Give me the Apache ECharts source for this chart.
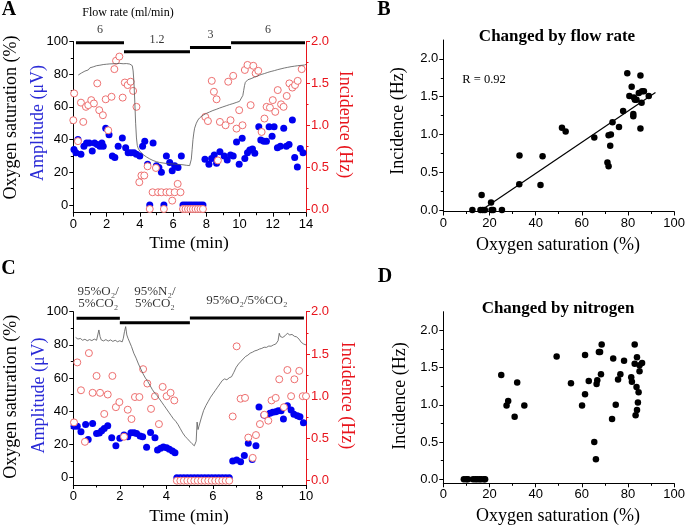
<!DOCTYPE html>
<html><head><meta charset="utf-8">
<script src="https://cdn.jsdelivr.net/npm/echarts@6/dist/echarts.min.js"></script>
<style>html,body{margin:0;padding:0;background:#fff}#c{width:688px;height:526px}</style>
</head><body><div id="c"></div>
<script>
// ---------- Panel A data (time in min) ----------
const ampA = [[0.04,34],[0.16,32],[0.28,40],[0.46,31],[0.64,36],[0.8,38],[0.96,38],[1.14,33],[1.28,38],[1.44,37],[1.6,36],[1.72,38],[1.8,36],[1.95,47],[2.15,43],[2.35,30],[2.5,29],[2.7,36],[2.95,41],[3.15,35],[3.3,32],[3.47,32],[3.65,32],[3.8,31],[4.0,30],[4.17,36],[4.3,39],[4.47,25],[4.6,0],[4.8,38],[5.0,24],[5.15,23],[5.3,20],[5.45,0],[5.6,30],[5.8,26],[5.95,21],[6.1,24],[6.3,23],[6.5,30],[6.6,0],[6.75,0],[6.9,0],[7.05,0],[7.2,0],[7.35,0],[7.5,0],[7.65,0],[7.8,0],[7.92,28],[8.16,25],[8.32,28.5],[8.48,30.6],[8.62,25.5],[8.82,32.6],[9.08,30],[9.26,27.5],[9.46,30.6],[9.62,30],[9.82,38.5],[9.98,25],[10.16,40.8],[10.32,28.5],[10.48,32],[10.62,33.6],[10.78,34.3],[10.92,31.6],[11.16,47.9],[11.28,39.7],[11.46,39],[11.62,39],[11.78,47.9],[11.96,42],[12.08,47.9],[12.28,35],[12.46,36],[12.66,47],[12.82,36],[12.98,37],[13.18,52],[13.32,29],[13.48,23.2],[13.66,34.6],[13.82,32]];
const incA = [[0.0,1.06],[0.05,1.38],[0.28,0.81],[0.46,1.27],[0.6,1.04],[0.76,1.22],[0.9,1.24],[1.08,1.3],[1.24,1.26],[1.44,1.5],[1.56,1.18],[1.78,1.12],[1.95,1.31],[2.1,0.94],[2.3,1.34],[2.47,1.67],[2.57,1.77],[2.77,1.82],[2.97,1.33],[3.1,1.51],[3.27,1.48],[3.45,1.52],[3.6,1.41],[3.8,1.22],[3.97,0.32],[4.1,0.4],[4.27,0.4],[4.47,0.51],[4.6,0],[4.77,0.2],[4.97,0.49],[5.1,0.2],[5.3,0.2],[5.45,0],[5.6,0.2],[5.8,0.2],[5.95,0.1],[6.1,0.2],[6.28,0.3],[6.45,0.2],[6.6,0],[6.75,0],[6.9,0],[7.05,0],[7.2,0],[7.35,0],[7.5,0],[7.65,0],[7.8,0],[7.94,1.1],[8.1,1.05],[8.33,1.53],[8.46,1.4],[8.62,1.31],[8.7,0.58],[8.82,1.04],[9.16,1.0],[9.32,1.52],[9.46,1.06],[9.62,1.59],[9.82,0.96],[9.98,1.18],[10.18,1.0],[10.32,1.66],[10.48,1.72],[10.67,1.24],[10.83,1.71],[10.97,1.62],[11.13,1.65],[11.33,0.92],[11.5,1.08],[11.63,1.22],[11.83,1.21],[12.0,1.3],[12.15,1.16],[12.3,1.42],[12.5,1.25],[12.65,1.22],[12.84,1.35],[13.0,1.5],[13.18,1.45],[13.34,1.48],[13.5,1.53],[13.74,1.67]];
const satA = [[0.3,79.5],[0.4,80.5],[0.5,80.8],[0.6,81.6],[0.7,81.9],[0.8,82.8],[0.9,82.6],[1.0,83.9],[1.1,83.4],[1.2,84.5],[1.3,84.1],[1.4,85.2],[1.5,84.7],[1.6,85.5],[1.7,85.0],[1.8,85.9],[1.9,85.3],[2.0,86.1],[2.1,85.4],[2.2,86.3],[2.3,85.6],[2.4,86.4],[2.5,85.6],[2.6,86.5],[2.7,85.8],[2.8,86.6],[2.9,85.8],[3.0,86.4],[3.1,85.7],[3.2,86.5],[3.3,85.9],[3.4,86.2],[3.5,85.7],[3.55,85.2],[3.6,82],[3.65,75],[3.7,63],[3.75,50],[3.8,41],[3.85,36.5],[3.9,34.8],[4.0,33],[4.1,31.8],[4.2,30.8],[4.3,30.1],[4.4,29.4],[4.5,28.8],[4.6,28.2],[4.7,27.7],[4.8,27.2],[4.9,26.8],[5.0,26.5],[5.2,26.0],[5.4,25.7],[5.6,25.4],[5.8,25.2],[6.0,25.1],[6.2,24.9],[6.4,24.8],[6.6,24.6],[6.8,24.3],[7.0,24.1],[7.05,25],[7.1,28],[7.15,34],[7.2,40],[7.25,44],[7.3,47],[7.4,50],[7.5,52],[7.6,53.3],[7.7,54.0],[7.8,54.9],[7.9,55.3],[8.0,56.0],[8.1,56.2],[8.2,56.9],[8.3,57.0],[8.4,57.8],[8.5,57.7],[8.6,58.5],[8.7,58.4],[8.8,59.3],[8.9,59.1],[9.0,60.0],[9.1,59.8],[9.2,60.7],[9.3,60.5],[9.4,61.4],[9.5,61.2],[9.6,62.0],[9.7,61.8],[9.8,62.7],[9.9,62.6],[10.0,63.4],[10.1,64.5],[10.2,67],[10.25,70],[10.3,73],[10.35,75],[10.4,76.2],[10.5,76.6],[10.6,77.6],[10.7,77.3],[10.8,78.4],[10.9,78.2],[11.0,79.2],[11.1,79.0],[11.2,80.0],[11.3,79.8],[11.4,80.7],[11.5,80.4],[11.6,81.3],[11.7,81.1],[11.8,81.9],[11.9,81.7],[12.0,82.5],[12.1,82.2],[12.2,83.0],[12.3,82.8],[12.4,83.6],[12.5,83.3],[12.6,84.1],[12.7,83.8],[12.8,84.6],[12.9,84.2],[13.0,85.0],[13.1,84.6],[13.2,85.4],[13.3,84.9],[13.4,85.7],[13.5,85.2],[13.6,86.0],[13.7,85.4],[13.8,86.2],[13.9,85.6],[14.0,86.0]];
const flowSegments = [[0.16,3.05,'6'],[3.05,7.02,'1.2'],[7.02,9.49,'3'],[9.49,13.94,'6']];

// ---------- Panel B data (saturation %, incidence Hz) ----------
const ptsB = [[12.6,0],[16.6,0.2],[16.1,0],[17.1,0],[18,0],[20.7,0.1],[20.9,0],[21.6,0],[25.4,0],[32.9,0.34],[33,0.72],[42.1,0.33],[43,0.71],[51.4,1.09],[53,1.04],[65.4,0.96],[71.1,0.63],[71.6,0.58],[71.6,0.99],[72.6,1.0],[72.3,0.85],[73.3,1.16],[76.1,1.1],[77.9,1.31],[79.7,1.81],[80.6,1.51],[81.6,1.63],[82.3,1.27],[82.3,1.24],[82.6,1.49],[83,1.46],[83.7,1.46],[84.7,1.55],[85.4,1.78],[85.4,1.08],[85.9,1.42],[86.1,1.57],[86.9,1.57],[89,1.51]];
const fitB = [[16.6,0],[91.9,1.554]];

// ---------- Panel C data ----------
const ampC = [[0.03,31],[0.17,31],[0.33,27.7],[0.53,32],[0.64,23],[0.83,32.7],[1.0,26.7],[1.12,27],[1.22,28.3],[1.33,29.7],[1.48,31.3],[1.65,24.1],[1.83,19.3],[2.0,23.7],[2.18,25.7],[2.34,24.7],[2.48,27.1],[2.61,27.1],[2.72,26.7],[2.87,25.1],[2.98,24.7],[3.15,18.3],[3.32,27.3],[3.51,24.1],[3.62,16.7],[3.75,17.7],[3.87,18.5],[4.01,18.1],[4.13,17.1],[4.26,16.1],[4.37,15.1],[4.45,0],[4.6,0],[4.75,0],[4.9,0],[5.05,0],[5.2,0],[5.35,0],[5.5,0],[5.65,0],[5.8,0],[5.95,0],[6.1,0],[6.25,0],[6.4,0],[6.55,0],[6.7,0],[6.85,10],[7.02,10.6],[7.19,9.6],[7.35,13.3],[7.52,20.7],[7.69,11],[7.85,19.3],[7.98,42.6],[8.19,37.8],[8.31,37.1],[8.45,38.8],[8.57,39.4],[8.7,39.8],[8.81,40.4],[8.93,40.4],[9.03,35.3],[9.2,43.4],[9.36,40.8],[9.48,38.2],[9.63,37.3],[9.74,36.7],[9.89,33.1]];
const incC = [[0.03,0.69],[0.17,1.4],[0.33,1.07],[0.5,0.46],[0.67,1.51],[0.83,1.04],[1.0,1.24],[1.15,1.04],[1.33,0.79],[1.48,1.02],[1.68,1.24],[1.83,0.87],[1.98,0.93],[2.18,0.52],[2.34,0.84],[2.5,0.73],[2.65,0.99],[2.84,0.99],[3.0,1.32],[3.18,1.15],[3.34,0.85],[3.51,1.0],[3.68,0.67],[3.84,1.11],[4.01,1.0],[4.18,1.04],[4.34,0.95],[4.45,0],[4.6,0],[4.75,0],[4.9,0],[5.05,0],[5.2,0],[5.35,0],[5.5,0],[5.65,0],[5.8,0],[5.95,0],[6.1,0],[6.25,0],[6.4,0],[6.55,0],[6.7,0],[6.85,0.76],[7.02,1.59],[7.19,0.97],[7.38,0.98],[7.52,0.51],[7.71,0.27],[7.85,0.54],[8.02,0.67],[8.21,0.78],[8.38,0.71],[8.52,0.95],[8.7,0.98],[8.85,1.2],[9.05,0.87],[9.2,1.31],[9.36,1.0],[9.5,1.2],[9.71,1.3],[9.86,1.0],[10.0,1.0]];
const satC = [[0.1,84.5],[0.2,83.5],[0.3,83.9],[0.4,82.8],[0.5,83.4],[0.6,82.5],[0.7,83.2],[0.8,82.6],[0.9,83.5],[1.0,82.8],[1.05,84],[1.1,89],[1.15,85],[1.2,83],[1.3,82.4],[1.4,83.2],[1.5,82.3],[1.6,83.0],[1.7,82.1],[1.8,82.8],[1.9,81.9],[2.0,82.5],[2.1,81.8],[2.15,84],[2.2,88],[2.25,91],[2.3,86],[2.35,84],[2.4,83],[2.5,79],[2.6,75],[2.7,72],[2.8,68.5],[2.9,65.5],[3.0,62.5],[3.1,60],[3.2,58],[3.3,55.5],[3.4,53],[3.5,51],[3.6,49.5],[3.7,47.5],[3.8,45.5],[3.9,43.5],[4.0,41.5],[4.1,39.5],[4.2,37.5],[4.3,35.5],[4.4,34],[4.5,32],[4.6,29.5],[4.7,27],[4.8,25],[4.9,23.5],[5.0,22],[5.1,20.5],[5.2,19.2],[5.25,18.3],[5.28,22],[5.32,33.5],[5.36,29],[5.4,31],[5.5,36],[5.6,40.5],[5.7,43.5],[5.8,46],[5.9,48.5],[6.0,50.5],[6.1,52.5],[6.2,54.5],[6.3,56.5],[6.4,58.5],[6.5,59.5],[6.6,59.0],[6.7,60.2],[6.8,60.8],[6.9,63.5],[7.0,66.5],[7.1,68.5],[7.2,70.0],[7.3,71.5],[7.4,73.0],[7.5,73.8],[7.6,75.0],[7.7,75.6],[7.8,76.4],[7.9,76.8],[8.0,77.5],[8.1,77.9],[8.2,78.6],[8.3,78.5],[8.4,79.3],[8.5,79.2],[8.6,80.0],[8.7,80.5],[8.8,82.5],[8.85,87],[8.9,85],[9.0,84.5],[9.1,85.5],[9.2,87],[9.3,86],[9.4,86.3],[9.5,85.2],[9.6,84.8],[9.7,83.5],[9.8,81.5],[9.9,80.5],[10.0,80]];
const gasSegments = [[0.14,2.0,'95%O₂/\n5%CO₂'],[2.0,5.01,'95%N₂/\n5%CO₂'],[5.01,9.91,'95%O₂/5%CO₂']];

// ---------- Panel D data ----------
const ptsD = [[8.9,0],[10,0],[10.7,0],[12.9,0],[13.9,0],[14.7,0],[15.7,0],[16.4,0],[17.6,0],[18.1,0],[25.1,1.4],[27.4,0.99],[28.1,1.05],[30.9,0.84],[32,1.3],[35.1,0.99],[49.1,1.65],[55.3,1.29],[60.1,0.99],[61.4,1.67],[61.4,1.14],[63,1.32],[66.1,0.27],[65.4,0.5],[66.4,1.28],[66.7,1.33],[67.4,1.71],[67.9,1.71],[68.3,1.41],[68.6,1.81],[73.1,0.81],[73.6,1.62],[74.7,1.0],[75.7,1.34],[76.7,1.41],[78.3,1.59],[81.4,1.37],[81.7,1.31],[82.9,1.81],[82.9,1.55],[83.3,0.86],[83.7,1.24],[83.9,0.93],[83.9,1.64],[84.3,1.03],[84.6,1.17],[85,1.53],[85,1.45],[86.1,1.56]];

// ---------- tick labels ----------
const satTicks = [0,20,40,60,80,100], satMinor = [10,30,50,70,90];
const hzTicks = [0,0.5,1,1.5,2], hzMinor = [0.25,0.75,1.25,1.75];

// ---------- layout / style ----------
const flowBarLevel = [99.3,93.8,96.4,99.3], flowLabelLevel = [107.4,101.3,103.8,107.4];
const gasBarLevel = [96,93.4,96.2], gasLabelLevel = [108.6,108.6,107];
const SERIF='"Liberation Serif","Times New Roman",Times,serif';
const SANS='"Liberation Sans",Arial,Helvetica,sans-serif';
const RED='#e8141c', BLUE='#0000f0', PINK='#ee7070', BLUETXT='#2a2ad6';

function xAx(g,max,interval){return {type:'value',gridIndex:g,min:0,max:max,interval:interval,
  axisLine:{onZero:false,lineStyle:{color:'#000',width:1}},
  axisTick:{length:4,lineStyle:{color:'#000'}},
  minorTick:{show:true,splitNumber:2,length:2.5,lineStyle:{color:'#000'}},
  axisLabel:{color:'#000',fontFamily:SANS,fontSize:13,margin:5},
  splitLine:{show:false},minorSplitLine:{show:false}};}
function yAx(g,min,max,labels,pos,color,dec){return {type:'value',gridIndex:g,position:pos,min:min,max:max,
  axisLine:{show:true,onZero:false,lineStyle:{color:color,width:1}},
  axisTick:{show:true,length:4,customValues:labels,lineStyle:{color:color}},
  axisLabel:{customValues:labels,color:color,fontFamily:SANS,fontSize:13,margin:5,
    formatter:function(v){return dec?Number(v).toFixed(1):String(v);}},
  splitLine:{show:false}};}
function yMin(g,min,max,vals,pos,color){return {type:'value',gridIndex:g,position:pos,min:min,max:max,
  axisLine:{show:false,onZero:false},
  axisTick:{show:true,length:2.5,customValues:vals,lineStyle:{color:color}},
  axisLabel:{show:false},splitLine:{show:false}};}

function barSeries(segs,levels,xi,yi){return segs.map(function(s,i){return {type:'line',xAxisIndex:xi,yAxisIndex:yi,
  data:[[s[0],levels[i]],[s[1],levels[i]]],showSymbol:false,symbol:'none',silent:true,clip:false,z:6,
  lineStyle:{color:'#000',width:3}};});}
function labelSeries(segs,levels,xi,yi,fs){return {type:'scatter',xAxisIndex:xi,yAxisIndex:yi,symbolSize:1,clip:false,silent:true,z:6,
  itemStyle:{color:'rgba(0,0,0,0)'},
  data:segs.map(function(s,i){return [(s[0]+s[1])/2,levels[i],s[2]];}),
  label:{show:true,position:'inside',formatter:function(p){return p.data[2];},fontFamily:SERIF,fontSize:fs,color:'#000',lineHeight:12}};}

function txt(text,x,y,o){o=o||{};return {type:'text',x:x,y:y,rotation:o.rot||0,silent:true,
  style:{text:text,fill:o.color||'#000',font:(o.bold?'bold ':'')+(o.size||18)+'px '+SERIF,
    textAlign:'center',textVerticalAlign:'middle',align:'center',verticalAlign:'middle'}};}

const dot = function(c){return {color:c,opacity:1};};
const ring = {color:'#fff',borderColor:PINK,borderWidth:1,opacity:1};

const chart = echarts.init(document.getElementById('c'),null,{renderer:'canvas'});
const series = [].concat(
  [
   {type:'scatter',xAxisIndex:0,yAxisIndex:0,data:ampA,symbolSize:7,itemStyle:dot(BLUE),z:2},
   {type:'scatter',xAxisIndex:0,yAxisIndex:2,data:incA,symbolSize:7,itemStyle:ring,z:3},
   {type:'line',xAxisIndex:0,yAxisIndex:0,data:satA,showSymbol:false,symbol:'none',lineStyle:{color:'#555',width:0.8},z:4},
   labelSeries(flowSegments,flowLabelLevel,0,0,12)
  ],
  barSeries(flowSegments,flowBarLevel,0,0),
  [
   {type:'scatter',xAxisIndex:1,yAxisIndex:4,data:ptsB,symbolSize:6.5,itemStyle:dot('#000'),z:3},
   {type:'line',xAxisIndex:1,yAxisIndex:4,data:fitB,showSymbol:false,symbol:'none',lineStyle:{color:'#000',width:1.2},z:2},
   {type:'scatter',xAxisIndex:2,yAxisIndex:6,data:ampC,symbolSize:7,itemStyle:dot(BLUE),z:2},
   {type:'scatter',xAxisIndex:2,yAxisIndex:8,data:incC,symbolSize:7,itemStyle:ring,z:3},
   {type:'line',xAxisIndex:2,yAxisIndex:6,data:satC,showSymbol:false,symbol:'none',lineStyle:{color:'#555',width:0.8},z:4},
   labelSeries(gasSegments,gasLabelLevel,2,6,13)
  ],
  barSeries(gasSegments,gasBarLevel,2,6),
  [
   {type:'scatter',xAxisIndex:3,yAxisIndex:10,data:ptsD,symbolSize:6.5,itemStyle:dot('#000'),z:3}
  ]
);

chart.setOption({
  animation:false,
  backgroundColor:'#fff',
  grid:[
    {left:73.3,top:41.5,width:232.7,height:171.2},
    {left:443.3,top:40,width:233.4,height:171.5},
    {left:73.3,top:311.7,width:232.7,height:173.3},
    {left:443.3,top:311.7,width:233.4,height:171.6}
  ],
  xAxis:[xAx(0,14,2),xAx(1,100,20),xAx(2,10,2),xAx(3,100,20)],
  yAxis:[
    yAx(0,-4.7,100,satTicks,'left','#000',false), yMin(0,-4.7,100,satMinor,'left','#000'),
    yAx(0,-0.044,2,hzTicks,'right',RED,true), yMin(0,-0.044,2,hzMinor,'right',RED),
    yAx(1,-0.02,2.25,hzTicks,'left','#000',true), yMin(1,-0.02,2.25,hzMinor,'left','#000'),
    yAx(2,-4.4,100,satTicks,'left','#000',false), yMin(2,-4.4,100,satMinor,'left','#000'),
    yAx(2,-0.051,2,hzTicks,'right',RED,true), yMin(2,-0.051,2,hzMinor,'right',RED),
    yAx(3,-0.054,2.25,hzTicks,'left','#000',true), yMin(3,-0.054,2.25,hzMinor,'left','#000')
  ],
  series:series,
  graphic:[
    txt('A',9,10,{bold:true,size:20}), txt('B',384,10,{bold:true,size:20}),
    txt('C',8.5,268.5,{bold:true,size:20}), txt('D',385,276.5,{bold:true,size:20}),
    txt('Flow rate (ml/min)',128,12.5,{size:12}),
    txt('Oxygen saturation (%)',11,117.5,{rot:Math.PI/2}),
    txt('Amplitude (μV)',38.5,123,{rot:Math.PI/2,color:BLUETXT}),
    txt('Incidence (Hz)',345,124.5,{rot:-Math.PI/2,color:RED}),
    txt('Time (min)',189,243,{size:17.5}),
    txt('Changed by flow rate',557,36.7,{bold:true,size:17}),
    txt('R = 0.92',484,80,{size:12.5}),
    txt('Incidence (Hz)',398.5,121,{rot:Math.PI/2}),
    txt('Oxygen saturation (%)',558,245,{size:18}),
    txt('Oxygen saturation (%)',11,396.7,{rot:Math.PI/2}),
    txt('Amplitude (μV)',39,395.5,{rot:Math.PI/2,color:BLUETXT}),
    txt('Incidence (Hz)',347,395.5,{rot:-Math.PI/2,color:RED}),
    txt('Time (min)',189,516,{size:17.5}),
    txt('Changed by nitrogen',558,308.3,{bold:true,size:17}),
    txt('Incidence (Hz)',400,396,{rot:Math.PI/2}),
    txt('Oxygen saturation (%)',558,516.7,{size:18})
  ]
});
</script></body></html>
